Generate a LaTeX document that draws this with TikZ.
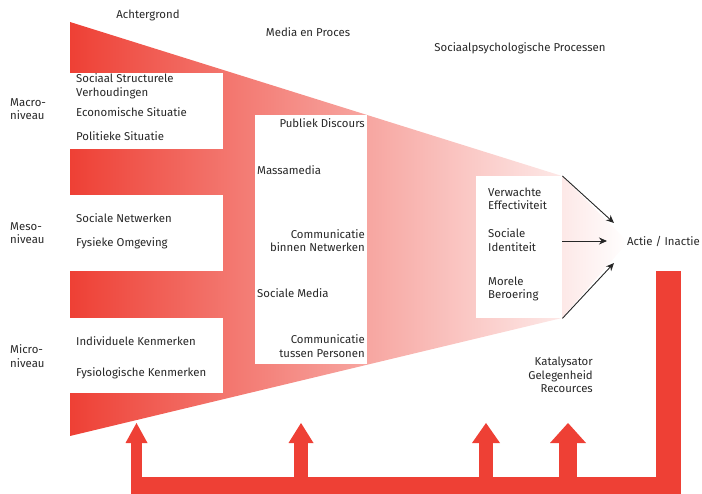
\documentclass[tikz,border=0pt]{standalone}
\usepackage{fontspec}
\setmainfont{Fira Sans}
\usepackage{xcolor}
\usetikzlibrary{arrows.meta, positioning}

\definecolor{funnelred}{RGB}{238,64,53}
\definecolor{txtgrey}{RGB}{40,40,40}

\begin{document}
\begin{tikzpicture}[x=1pt, y=-1pt, font=\fontsize{11.4}{13.6}\selectfont, text=txtgrey,
        box/.style={fill=white, inner sep=0pt, anchor=north west},
        lbl/.style={inner sep=0pt, anchor=west, align=left},
        rlbl/.style={inner sep=0pt, anchor=east, align=right},
        ctr/.style={inner sep=0pt},
        arr/.style={draw=black!85, line width=0.9pt, -{Stealth[length=8pt, width=7pt]}},
        feed/.style={draw=funnelred, line cap=butt}]

    \useasboundingbox (0,0) rectangle (702,494);

    % funnel
    \shade[left color=funnelred, right color=white]
        (70,22) -- (562,176) -- (628,242) -- (562,318) -- (70,436) -- cycle;

    % headings
    \node[ctr] (achter) at (148,15) {Achtergrond};
    \node[ctr] (media) at (308,32) {Media en Proces};
    \node[ctr] (psych) at (520,48) {Sociaalpsychologische Processen};

    % levels
    \node[lbl] (macro) at (10,109) {Macro-\\niveau};
    \node[lbl] (meso) at (10,233) {Meso-\\niveau};
    \node[lbl] (micro) at (10,356) {Micro-\\niveau};

    % boxes
    \node[box, minimum width=153pt, minimum height=76pt] (b1) at (70,73) {};
    \node[box, minimum width=153pt, minimum height=76pt] (b2) at (70,195) {};
    \node[box, minimum width=153pt, minimum height=75pt] (b3) at (70,318) {};
    \node[box, minimum width=112pt, minimum height=249pt] (bm) at (255,115) {};
    \node[box, minimum width=86pt, minimum height=142pt] (bp) at (476,176) {};

    % background
    \node[lbl] (struct) at (76,86) {Sociaal Structurele\\Verhoudingen};
    \node[lbl] (econ) at (76,112) {Economische Situatie};
    \node[lbl] (polit) at (76,136) {Politieke Situatie};
    \node[lbl] (netw) at (76,218) {Sociale Netwerken};
    \node[lbl] (omg) at (76,243) {Fysieke Omgeving};
    \node[lbl] (indiv) at (76,341) {Individuele Kenmerken};
    \node[lbl] (fysio) at (76,373) {Fysiologische Kenmerken};

    % media
    \node[rlbl] (publiek) at (365,123) {Publiek Discours};
    \node[lbl] (massa) at (257,170) {Massamedia};
    \node[rlbl] (binnen) at (365,240.5) {Communicatie\\binnen Netwerken};
    \node[lbl] (socmed) at (257,293) {Sociale Media};
    \node[rlbl] (tussen) at (365,346) {Communicatie\\tussen Personen};

    % psychological processes
    \node[lbl] (effect) at (488,199) {Verwachte\\Effectiviteit};
    \node[lbl] (ident) at (488,240) {Sociale\\Identiteit};
    \node[lbl] (moreel) at (488,289) {Morele\\Beroering};

    \node[rlbl] (actie) at (700,241) {Actie / Inactie};
    \node[rlbl] (kata) at (593,375) {Katalysator\\Gelegenheid\\Recources};

    \coordinate (s2) at (562,241);
    \coordinate (t1) at (614,223);
    \coordinate (t2) at (607,241);
    \coordinate (t3) at (614,263);
    \draw[arr] (bp.north east) -- (t1);
    \draw[arr] (s2) -- (t2);
    \draw[arr] (bp.south east) -- (t3);

    % feedback
    \fill[funnelred] (656,271) rectangle (681,494);
    \fill[funnelred] (131,477) rectangle (681,494);
    \coordinate (f1) at (136.5,423);
    \coordinate (f2) at (301,423);
    \coordinate (f3) at (486,423);
    \coordinate (f4) at (568,423);
    \draw[feed, line width=11pt, -{Triangle[width=22pt, length=20pt, line width=0pt]}] (136.5,478) -- (f1);
    \draw[feed, line width=14pt, -{Triangle[width=25pt, length=20pt, line width=0pt]}] (301,478) -- (f2);
    \draw[feed, line width=14pt, -{Triangle[width=28pt, length=20pt, line width=0pt]}] (486,478) -- (f3);
    \draw[feed, line width=18pt, -{Triangle[width=36pt, length=20pt, line width=0pt]}] (568,478) -- (f4);
\end{tikzpicture}
\end{document}
